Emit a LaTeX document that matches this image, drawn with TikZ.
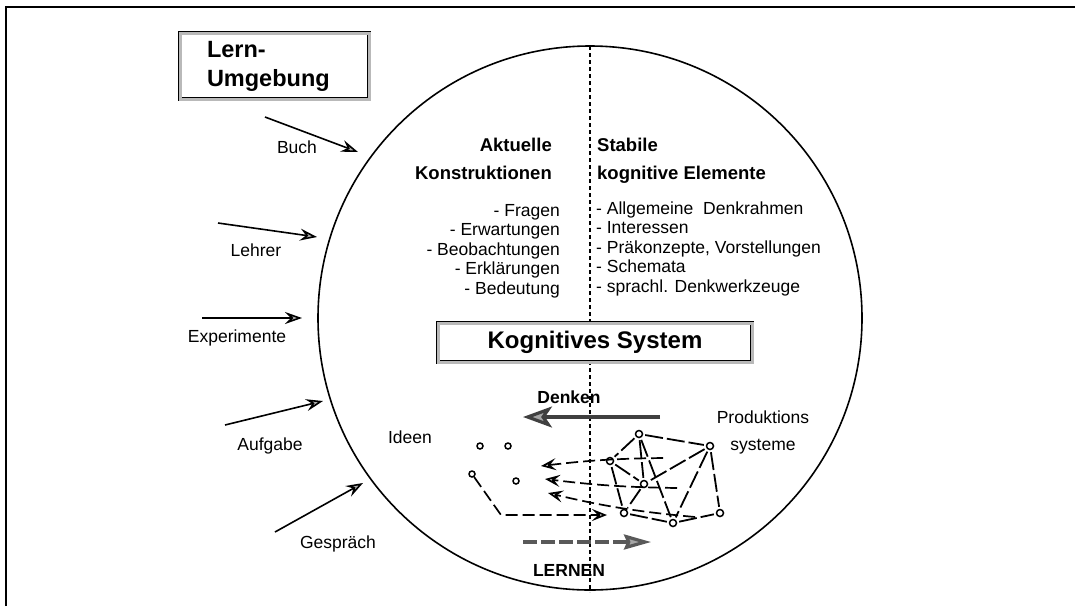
\documentclass[tikz,border=0pt]{standalone}
\usepackage{fontspec}
\setmainfont{Liberation Sans}
\usetikzlibrary{arrows.meta}

\begin{document}
\begin{tikzpicture}[x=1pt,y=-1pt,
  lbl/.style={font=\fontsize{17.5}{21}\selectfont,inner sep=0pt},
  hdr/.style={font=\fontsize{18.5}{22}\selectfont\bfseries,inner sep=0pt},
  frm/.style={draw=black,line width=0.6pt,double=gray!55,double distance=3pt,fill=white},
  dot/.style={circle,draw,line width=1.5pt,inner sep=0pt,minimum size=7pt,fill=white},
  edge/.style={line width=1.8pt,dash pattern=on 18pt off 4pt,shorten <=2pt,shorten >=2pt},
  inarr/.style={line width=1.6pt,-{Stealth[length=17pt 0,width=12pt 0,inset=6pt 0,fill=gray!60]}},
  thought/.style={line width=1.7pt,dash pattern=on 12pt off 5pt,
                  -{Stealth[open,length=15pt 0,width=12pt 0,inset=6pt 0]}}]

  \useasboundingbox (0,0) rectangle (1075,606);

  % outer frame (top + left only)
  \draw[line width=1.8pt] (6,606) -- (6,7) -- (1075,7);

  % cognitive system circle + divider
  \draw[line width=1.6pt] (590,318) circle[radius=272pt];
  \draw[line width=1.6pt,dash pattern=on 4pt off 3pt] (590,46) -- (590,592);

  % environment box
  \node[frm,minimum width=189pt,minimum height=66pt,inner xsep=0pt,text width=135pt,
        align=left,font=\fontsize{23.5}{29}\selectfont\bfseries] (umgebung) at (274.5,66)
        {Lern-\\Umgebung};

  % inputs from the environment
  \foreach \id/\txt/\sx/\sy/\ex/\ey/\lx/\ly in {
      buch/Buch/265/117/358/152/297/147,
      lehrer/Lehrer/218/223/317/237/256/250,
      exp/Experimente/202/318/302/318/237/338,
      aufg/Aufgabe/225/425/323/401/270/446,
      gespr/Gespräch/275/532/363/483/338/544} {
    \coordinate (s-\id) at (\sx,\sy);
    \coordinate (e-\id) at (\ex,\ey);
    \draw[inarr] (s-\id) -- (e-\id);
    \node[lbl] (l-\id) at (\lx,\ly) {\txt};
  }

  % column headers
  \node[hdr,anchor=base east] (akt) at (552,151.5) {Aktuelle};
  \node[hdr,anchor=base east] (konstr) at (552,179.5) {Konstruktionen};
  \node[hdr,anchor=base west] (stab) at (597,151.5) {Stabile};
  \node[hdr,anchor=base west] (kogel) at (597,179.5) {kognitive Elemente};

  % left list (right aligned), right list (left aligned)
  \foreach \i/\txt/\yy in {1/Fragen/216, 2/Erwartungen/235.5, 3/Beobachtungen/255,
                           4/Erklärungen/274.5, 5/Bedeutung/294}
    \node[lbl,anchor=base east] (la-\i) at (560,\yy) {- \txt};
  \foreach \i/\txt/\yy in {1/Allgemeine~ Denkrahmen/214, 2/Interessen/233.5,
                           3/{Präkonzepte, Vorstellungen}/253, 4/Schemata/272.5,
                           5/sprachl. Denkwerkzeuge/292}
    \node[lbl,anchor=base west] (rb-\i) at (596,\yy) {- \txt};

  % system box
  \node[frm,minimum width=314pt,minimum height=39pt,
        font=\fontsize{24}{28}\selectfont\bfseries] (kogsys) at (595,342.5) {Kognitives System};

  % thinking arrow
  \node[lbl,font=\fontsize{17.5}{21}\selectfont\bfseries] (denken) at (569,397) {Denken};
  \coordinate (dk-s) at (660,417);
  \coordinate (dk-e) at (523,417);
  \draw[line width=3.2pt,draw=black!75,
        -{Stealth[length=29pt 0,width=21pt 0,inset=7pt 0,fill=gray!70]}] (dk-s) -- (dk-e);

  % labels of the lower half
  \node[lbl] (ideen) at (410,437) {Ideen};
  \node[lbl,align=center,font=\fontsize{17.5}{27}\selectfont] (prodsys) at (763,432)
        {Produktions\\systeme};

  % ideas
  \foreach \id/\xx/\yy in {i1/480/446, i2/508/446, i3/472/474, i4/516/481}
    \node[dot,minimum size=6pt] (\id) at (\xx,\yy) {};

  % production system network
  \foreach \id/\xx/\yy in {p1/639/434, p2/710/446, p3/610/461, p4/644/484,
                           p5/624/513, p6/673/523, p7/720/513}
    \node[dot] (\id) at (\xx,\yy) {};
  \foreach \a/\b in {p1/p2, p1/p3, p1/p4, p1/p6, p2/p4, p2/p6, p2/p7,
                     p3/p4, p3/p5, p4/p5, p5/p6, p6/p7}
    \draw[edge] (\a) -- (\b);

  % productions feeding ideas
  \coordinate (t1s) at (663,458);  \coordinate (t1e) at (541,466);
  \coordinate (t2s) at (677,488);  \coordinate (t2e) at (545,479);
  \coordinate (t3s) at (695,517);  \coordinate (t3e) at (548,493);
  \draw[thought] (t1s) to[bend right=3] (t1e);
  \draw[thought] (t2s) to[bend left=3] (t2e);
  \draw[thought] (t3s) to[bend left=4] (t3e);

  % idea turned into production
  \coordinate (lk) at (501,515);
  \coordinate (lend) at (607,515);
  \draw[thought] (i3) -- (lk) -- (lend);

  % learning arrow
  \coordinate (ln-s) at (523,542);
  \coordinate (ln-e) at (651,542);
  \draw[line width=3.2pt,draw=black!65,dash pattern=on 14pt off 4pt,
        -{Stealth[length=27pt 0,width=15pt 0,inset=3pt 0,fill=gray!70]}] (ln-s) -- (ln-e);
  \node[lbl,font=\fontsize{17.5}{21}\selectfont\bfseries] (lernen) at (569,570) {LERNEN};

\end{tikzpicture}
\end{document}
